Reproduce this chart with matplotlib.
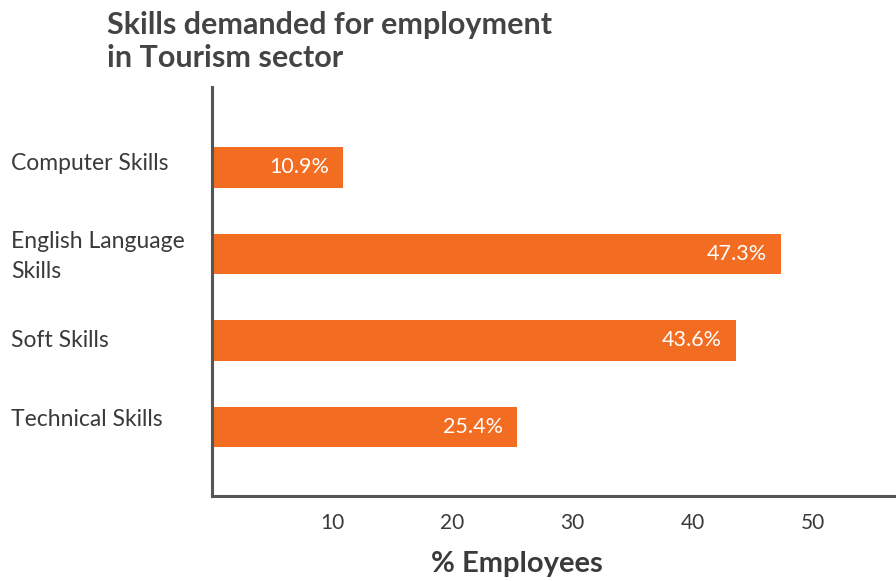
import matplotlib.pyplot as plt
import matplotlib.transforms as mtransforms

categories = ["Computer Skills", "English Language\nSkills", "Soft Skills", "Technical Skills"]
values = [10.9, 47.3, 43.6, 25.4]
value_labels = ["10.9%", "47.3%", "43.6%", "25.4%"]
xticks = [10, 20, 30, 40, 50]

plt.rcParams['font.family'] = ['Lato', 'DejaVu Sans']
ORANGE = "#F26D21"
DARK = "#3a3a3a"
AXC = "#555555"

fig = plt.figure(figsize=(8.96, 5.81), dpi=100)
ax = fig.add_axes([212/896, 1-496/581, 1-212/896, (496-87)/581])

pos = list(range(len(categories)))
ax.barh(pos, values, height=0.47, color=ORANGE, edgecolor="none")
ax.set_ylim(3.80, -0.93)
ax.set_xlim(0, 56.9)

for s in ["top", "right"]:
    ax.spines[s].set_visible(False)
for s in ["left", "bottom"]:
    ax.spines[s].set_color(AXC)
    ax.spines[s].set_linewidth(2.2)

ax.set_xticks(xticks)
ax.set_xticklabels([str(t) for t in xticks], fontsize=15, color=DARK)
ax.tick_params(axis='x', length=0, pad=12)
ax.set_yticks([])

# value labels
off = mtransforms.offset_copy(ax.transData, fig=fig, x=-14, y=0, units='dots')
for p, v, lab in zip(pos, values, value_labels):
    ax.text(v, p, lab, transform=off, ha='right', va='center', color='white', fontsize=15.5)

# category labels
btr = mtransforms.blended_transform_factory(fig.transFigure, ax.transData)
yoffs = [-0.05, 0.03, 0.0, -0.08]
for p, c, dy in zip(pos, categories, yoffs):
    ax.text(11/896, p + dy, c, transform=btr, ha='left', va='center', color=DARK,
            fontsize=16.5, linespacing=1.5)

ax.set_xlabel("% Employees", fontsize=21, fontweight='bold', color=DARK)
ax.xaxis.set_label_coords((517-212)/(896-212), -0.135)

fig.text(107/896, 1-11/581, "Skills demanded for employment\nin Tourism sector",
         ha='left', va='top', fontsize=22, fontweight='bold', color="#444444", linespacing=1.2)

fig.savefig("out.png", dpi=100)
